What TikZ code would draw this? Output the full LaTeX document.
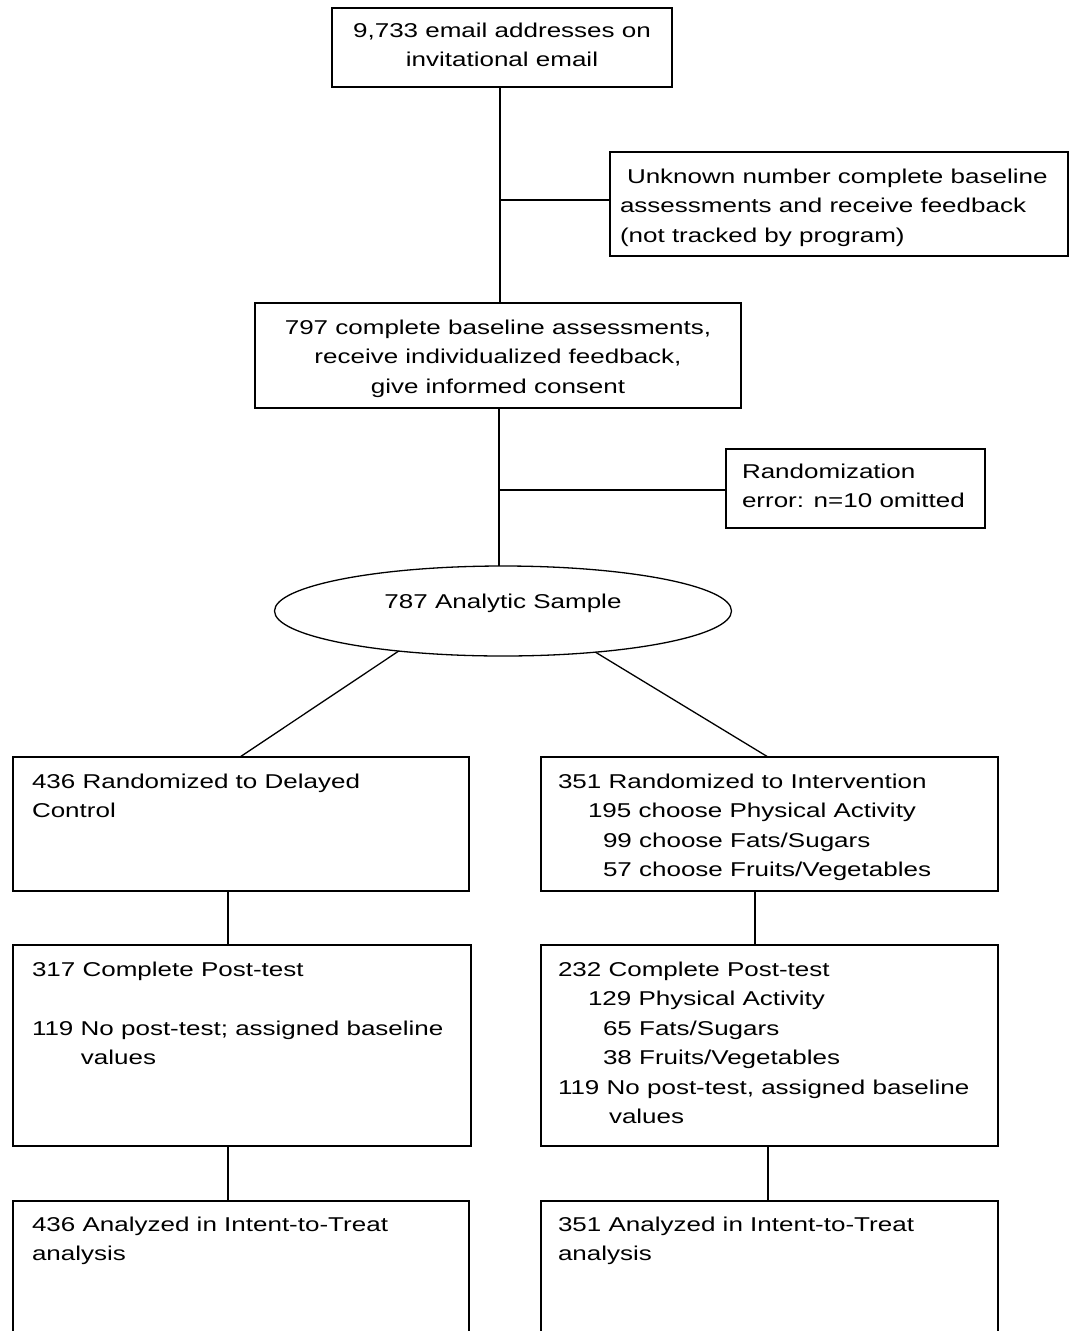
\documentclass[tikz,border=0pt]{standalone}
\usepackage{fontspec}
\setmainfont{Liberation Sans}[FakeStretch=1.3]
\usetikzlibrary{shapes.geometric}
\newcommand{\txtfont}{\fontsize{20}{29.5}\selectfont}
\newcommand{\lbox}[1]{\parbox[t]{440pt}{\raggedright\txtfont #1}}
\newcommand{\cbox}[2]{\parbox[t]{#1}{\centering\txtfont #2}}
\begin{document}
\begin{tikzpicture}[x=1pt,y=-1pt,
  boxnode/.style={draw, line width=1.3pt, rectangle, inner sep=0pt, outer sep=0pt},
  ellnode/.style={draw, line width=1.3pt, ellipse, inner sep=0pt, outer sep=0pt},
  txt/.style={inner sep=0pt, outer sep=0pt, anchor=base west},
  ctxt/.style={inner sep=0pt, outer sep=0pt, anchor=base},
  conn/.style={line width=1.3pt}]
\useasboundingbox (0,0) rectangle (1070,1331);
\fill[white] (0,0) rectangle (1070,1331);
\clip (0,0) rectangle (1070,1331);

% boxes
\node[boxnode, minimum width=340pt, minimum height=79pt] (b1) at (502,47.5) {};
\node[boxnode, minimum width=458pt, minimum height=104pt] (b2) at (839,204) {};
\node[boxnode, minimum width=486pt, minimum height=105pt] (b3) at (498,355.5) {};
\node[boxnode, minimum width=259pt, minimum height=79pt] (b4) at (855.5,488.5) {};
\node[ellnode, minimum width=457pt, minimum height=90pt] (ell) at (503,611) {};
\node[boxnode, minimum width=456pt, minimum height=134pt] (b5) at (241,824) {};
\node[boxnode, minimum width=457pt, minimum height=134pt] (b6) at (769.5,824) {};
\node[boxnode, minimum width=458pt, minimum height=201pt] (b7) at (242,1045.5) {};
\node[boxnode, minimum width=457pt, minimum height=201pt] (b8) at (769.5,1045.5) {};
\node[boxnode, minimum width=456pt, minimum height=159pt] (b9) at (241,1280.5) {};
\node[boxnode, minimum width=457pt, minimum height=159pt] (b10) at (769.5,1280.5) {};

% texts
\node[ctxt] (t1) at (502,37) {\cbox{330pt}{9,733 email addresses on\\invitational email}};
\node[txt] (t2) at (620,183) {\lbox{\hspace*{7pt}Unknown number complete baseline\\assessments and receive feedback\\(not tracked by program)}};
\node[ctxt] (t3) at (498,334) {\cbox{480pt}{797 complete baseline assessments,\\receive individualized feedback,\\give informed consent}};
\node[txt] (t4) at (742,478) {\lbox{Randomization\\error: n=10 omitted}};
\node[ctxt] (t5) at (503,608) {\cbox{400pt}{787 Analytic Sample}};
\node[txt] (t6) at (32,788) {\lbox{436 Randomized to Delayed\\Control}};
\node[txt] (t7) at (558,788) {\lbox{351 Randomized to Intervention\\\hspace*{30pt}195 choose Physical Activity\\\hspace*{45pt}99 choose Fats/Sugars\\\hspace*{45pt}57 choose Fruits/Vegetables}};
\node[txt] (t8) at (32,976) {\lbox{317 Complete Post-test\\[29.5pt]119 No post-test; assigned baseline\\\hspace*{49pt}values}};
\node[txt] (t9) at (558,976) {\lbox{232 Complete Post-test\\\hspace*{30pt}129 Physical Activity\\\hspace*{45pt}65 Fats/Sugars\\\hspace*{45pt}38 Fruits/Vegetables\\119 No post-test, assigned baseline\\\hspace*{51pt}values}};
\node[txt] (t10) at (32,1231) {\lbox{436 Analyzed in Intent-to-Treat\\analysis}};
\node[txt] (t11) at (558,1231) {\lbox{351 Analyzed in Intent-to-Treat\\analysis}};

% connectors
\coordinate (v1) at ([xshift=-2pt]b1.south);
\draw[conn] (v1) -- (v1 |- b3.north);
\draw[conn] (v1 |- 0,200) -- (b2.west |- 0,200);
\coordinate (v2) at ([xshift=1pt]b3.south);
\draw[conn] (v2) -- (v2 |- ell.north);
\draw[conn] (v2 |- 0,490) -- (b4.west |- 0,490);
\draw[conn] (ell.201.8) -- ([xshift=-1pt]b5.north);
\draw[conn] (ell.336.2) -- ([xshift=-1.5pt]b6.north);
\coordinate (v5) at ([xshift=-13pt]b5.south);
\draw[conn] (v5) -- (v5 |- b7.north);
\coordinate (v6) at ([xshift=-14.5pt]b6.south);
\draw[conn] (v6) -- (v6 |- b8.north);
\coordinate (v7) at ([xshift=-14pt]b7.south);
\draw[conn] (v7) -- (v7 |- b9.north);
\coordinate (v8) at ([xshift=-1.5pt]b8.south);
\draw[conn] (v8) -- (v8 |- b10.north);
\end{tikzpicture}
\end{document}
